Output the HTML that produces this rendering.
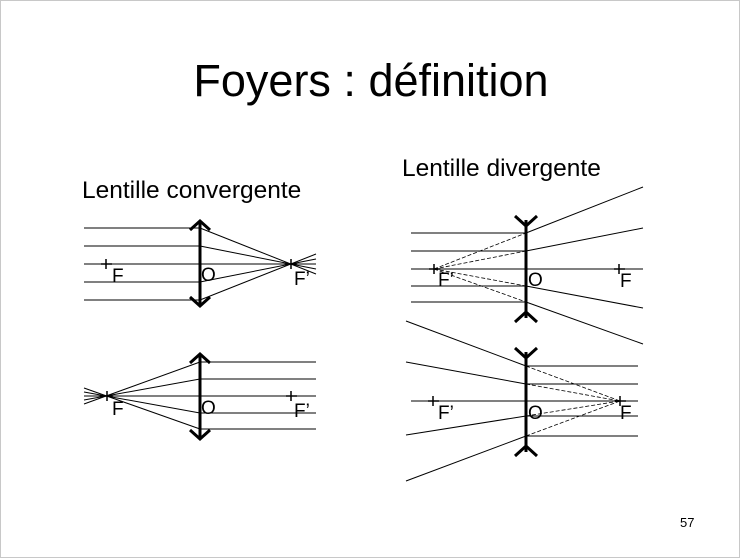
<!DOCTYPE html>
<html><head><meta charset="utf-8"><style>
html,body{margin:0;padding:0;background:#fff}
svg{display:block}
text{font-family:"Liberation Sans",Arial,sans-serif;fill:#000}
</style></head><body>
<svg width="740" height="558" viewBox="0 0 740 558" xmlns="http://www.w3.org/2000/svg">
<rect x="0.5" y="0.5" width="739" height="557" fill="#fff" stroke="#c8c8c8"/>
<text x="371" y="96" font-size="45" text-anchor="middle">Foyers : définition</text>
<text x="82" y="198" font-size="24.5">Lentille convergente</text>
<text x="402" y="176" font-size="24.5">Lentille divergente</text>
<text x="680" y="527" font-size="13">57</text>

<g stroke="#000" stroke-width="1" fill="none">
<line x1="84" y1="228" x2="200" y2="228"/>
<line x1="84" y1="246" x2="200" y2="246"/>
<line x1="84" y1="264" x2="316" y2="264"/>
<line x1="84" y1="282" x2="200" y2="282"/>
<line x1="84" y1="300" x2="200" y2="300"/>
<line x1="200" y1="228" x2="316" y2="274"/>
<line x1="200" y1="246" x2="316" y2="269"/>
<line x1="200" y1="282" x2="316" y2="259"/>
<line x1="200" y1="300" x2="316" y2="254"/>
<line x1="200" y1="362" x2="316" y2="362"/>
<line x1="200" y1="379" x2="316" y2="379"/>
<line x1="84" y1="396" x2="316" y2="396"/>
<line x1="200" y1="413" x2="316" y2="413"/>
<line x1="200" y1="429" x2="316" y2="429"/>
<line x1="200" y1="362" x2="84" y2="404"/>
<line x1="200" y1="379" x2="84" y2="400"/>
<line x1="200" y1="413" x2="84" y2="392"/>
<line x1="200" y1="429" x2="84" y2="388"/>
<line x1="411" y1="233" x2="526" y2="233"/>
<line x1="411" y1="251" x2="526" y2="251"/>
<line x1="411" y1="269" x2="643" y2="269"/>
<line x1="411" y1="286" x2="526" y2="286"/>
<line x1="411" y1="302" x2="526" y2="302"/>
<line x1="526" y1="233" x2="643" y2="187"/>
<line x1="526" y1="251" x2="643" y2="228"/>
<line x1="526" y1="286" x2="643" y2="308"/>
<line x1="526" y1="302" x2="643" y2="344"/>
<g stroke-dasharray="4,2" stroke-width="0.8">
<line x1="434" y1="269" x2="526" y2="233"/>
<line x1="434" y1="269" x2="526" y2="251"/>
<line x1="434" y1="269" x2="526" y2="286"/>
<line x1="434" y1="269" x2="526" y2="302"/>
</g>
<line x1="526" y1="366" x2="638" y2="366"/>
<line x1="526" y1="384" x2="638" y2="384"/>
<line x1="411" y1="401" x2="638" y2="401"/>
<line x1="526" y1="416" x2="638" y2="416"/>
<line x1="526" y1="436" x2="638" y2="436"/>
<line x1="406" y1="321" x2="526" y2="366"/>
<line x1="406" y1="362" x2="526" y2="384"/>
<line x1="406" y1="435" x2="526" y2="416"/>
<line x1="406" y1="481" x2="526" y2="436"/>
<g stroke-dasharray="4,2" stroke-width="0.8">
<line x1="526" y1="366" x2="620" y2="401"/>
<line x1="526" y1="384" x2="620" y2="401"/>
<line x1="526" y1="416" x2="620" y2="401"/>
<line x1="526" y1="436" x2="620" y2="401"/>
</g>
<g stroke-width="1.5">
<path d="M101 264h11M106 259v10"/>
<path d="M286 264h11M291 259v10"/>
<path d="M102 396h11M107 391v10"/>
<path d="M286 396h11M291 391v10"/>
<path d="M429 269h11M434 264v10"/>
<path d="M614 269h11M619 264v10"/>
<path d="M428 401h11M433 396v10"/>
<path d="M615 401h11M620 396v10"/>
</g>
</g>
<g stroke="#000" stroke-width="3" fill="none">
<line x1="200" y1="221" x2="200" y2="306"/>
<path d="M190 230L200 221L210 230M190 297L200 306L210 297"/>
<line x1="200" y1="354" x2="200" y2="439"/>
<path d="M190 363L200 354L210 363M190 430L200 439L210 430"/>
<line x1="526" y1="220" x2="526" y2="318"/>
<path d="M515 216L526 226L537 216M515 322L526 312L537 322"/>
<line x1="526" y1="352" x2="526" y2="452"/>
<path d="M515 348L526 358L537 348M515 456L526 446L537 456"/>
</g>
<g font-size="19">
<text x="112" y="282">F</text>
<text x="201" y="281">O</text>
<text x="294" y="285">F’</text>
<text x="112" y="415">F</text>
<text x="201" y="414">O</text>
<text x="294" y="417">F’</text>
<text x="438" y="286">F’</text>
<text x="528" y="286">O</text>
<text x="620" y="287">F</text>
<text x="438" y="419">F’</text>
<text x="528" y="419">O</text>
<text x="620" y="419">F</text>
</g>
</svg>
</body></html>
